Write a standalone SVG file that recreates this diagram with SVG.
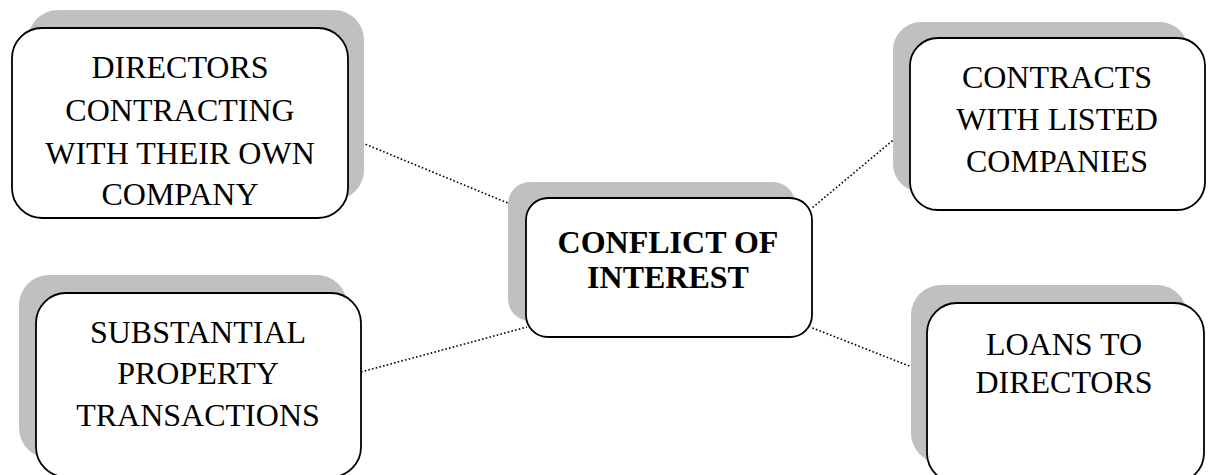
<svg xmlns="http://www.w3.org/2000/svg" width="1208" height="475" viewBox="0 0 1208 475">
  <style>
    .shadow { fill: #c0c0c0; stroke: none; }
    .box { fill: #ffffff; stroke: #000000; stroke-width: 1.8; }
    .label { font-family: "Liberation Serif", "Times New Roman", serif; font-size: 32px; fill: #000000; text-anchor: middle; }
    .title { font-weight: bold; }
    .link { fill: none; stroke: #000000; stroke-width: 1.6; stroke-dasharray: 1.6 2.2; }
  </style>
  <rect width="1208" height="475" fill="#ffffff"/>

  <!-- dotted connectors from the centre node to each topic -->
  <g id="connectors">
    <line class="link" x1="348" y1="137" x2="527" y2="211"/>
    <line class="link" x1="910" y1="126" x2="812" y2="208"/>
    <line class="link" x1="361" y1="372" x2="527" y2="327"/>
    <line class="link" x1="927" y1="373" x2="810" y2="327"/>
  </g>

  <g id="node-directors-contracting">
    <rect class="shadow" x="28" y="10" width="336" height="190" rx="30"/>
    <rect class="box" x="12" y="28" width="336" height="190" rx="30"/>
    <text class="label" x="180" y="78">DIRECTORS</text>
    <text class="label" x="180" y="121">CONTRACTING</text>
    <text class="label" x="180" y="164">WITH THEIR OWN</text>
    <text class="label" x="180" y="205">COMPANY</text>
  </g>

  <g id="node-conflict-of-interest">
    <rect class="shadow" x="508" y="182" width="287" height="139" rx="22"/>
    <rect class="box" x="526" y="198" width="286" height="139" rx="22"/>
    <text class="label title" x="668" y="253">CONFLICT OF</text>
    <text class="label title" x="668" y="288">INTEREST</text>
  </g>

  <g id="node-listed-companies">
    <rect class="shadow" x="893" y="22" width="295" height="170" rx="28"/>
    <rect class="box" x="910" y="38" width="295" height="172" rx="28"/>
    <text class="label" x="1057" y="88">CONTRACTS</text>
    <text class="label" x="1057" y="130">WITH LISTED</text>
    <text class="label" x="1057" y="172">COMPANIES</text>
  </g>

  <g id="node-property-transactions">
    <rect class="shadow" x="19" y="275" width="328" height="183" rx="30"/>
    <rect class="box" x="36" y="293" width="325" height="184" rx="30"/>
    <text class="label" x="198" y="343">SUBSTANTIAL</text>
    <text class="label" x="198" y="384">PROPERTY</text>
    <text class="label" x="198" y="426">TRANSACTIONS</text>
  </g>

  <g id="node-loans">
    <rect class="shadow" x="911" y="285" width="276" height="178" rx="30"/>
    <rect class="box" x="927" y="303" width="277" height="180" rx="30"/>
    <text class="label" x="1064" y="355">LOANS TO</text>
    <text class="label" x="1064" y="393">DIRECTORS</text>
  </g>
</svg>
